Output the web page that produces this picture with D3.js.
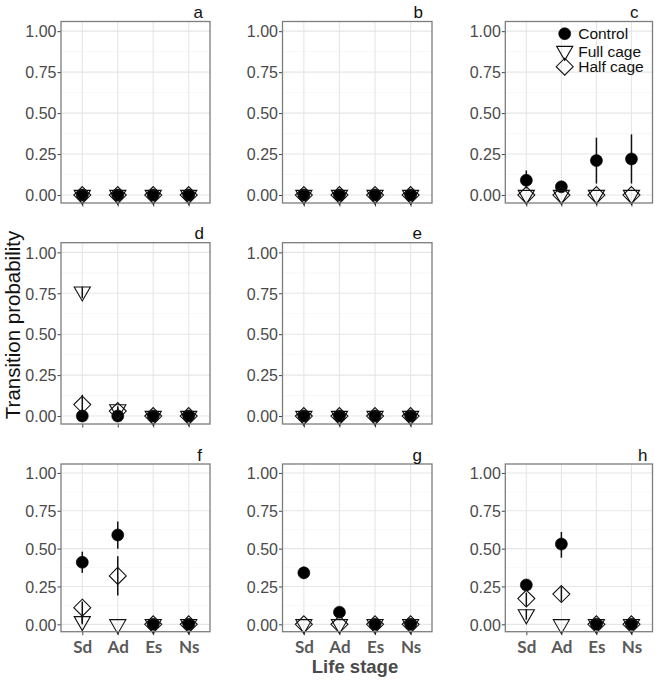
<!DOCTYPE html>
<html>
<head>
<meta charset="utf-8">
<script src="https://cdn.jsdelivr.net/npm/d3@7"></script>
<style>
  html, body { margin: 0; padding: 0; background: #fff; }
  svg { display: block; }
</style>
</head>
<body>
<div id="chart"></div>
<script>
// ---------------- DATA ----------------
const stages = ["Sd", "Ad", "Es", "Ns"];
const panelLabels = ["a", "b", "c", "d", "e", "f", "g", "h"];
const treatments = ["Control", "Full cage", "Half cage"];
const yTicks = [0, 0.25, 0.5, 0.75, 1];
const yTickLabels = ["0.00", "0.25", "0.50", "0.75", "1.00"];
const yMinorTicks = [0.125, 0.375, 0.625, 0.875];

// one row per panel (a..h), one value per life stage (Sd, Ad, Es, Ns)
const controlMean = [
  [0, 0, 0, 0], [0, 0, 0, 0], [0.09, 0.05, 0.21, 0.22], [0, 0, 0, 0],
  [0, 0, 0, 0], [0.41, 0.59, 0, 0], [0.34, 0.08, 0, 0], [0.26, 0.53, 0, 0]
];
const controlLow = [
  [0, 0, 0, 0], [0, 0, 0, 0], [0.04, 0.02, 0.07, 0.07], [0, 0, 0, 0],
  [0, 0, 0, 0], [0.34, 0.50, 0, 0], [0.30, 0.06, 0, 0], [0.23, 0.44, 0, 0]
];
const controlHigh = [
  [0, 0, 0, 0], [0, 0, 0, 0], [0.15, 0.08, 0.35, 0.37], [0, 0, 0, 0],
  [0, 0, 0, 0], [0.48, 0.68, 0, 0], [0.38, 0.10, 0, 0], [0.28, 0.61, 0, 0]
];
const fullMean = [
  [0, 0, 0, 0], [0, 0, 0, 0], [0, 0, 0, 0], [0.76, 0.04, 0, 0],
  [0, 0, 0, 0], [0.02, 0, 0, 0], [0, 0, 0, 0], [0.065, 0, 0, 0]
];
const fullLow = [
  [0, 0, 0, 0], [0, 0, 0, 0], [0, 0, 0, 0], [0.72, 0.02, 0, 0],
  [0, 0, 0, 0], [0, 0, 0, 0], [0, 0, 0, 0], [0.03, 0, 0, 0]
];
const fullHigh = [
  [0, 0, 0, 0], [0, 0, 0, 0], [0, 0, 0, 0], [0.79, 0.06, 0, 0],
  [0, 0, 0, 0], [0.06, 0, 0, 0], [0, 0, 0, 0], [0.10, 0, 0, 0]
];
const halfMean = [
  [0, 0, 0, 0], [0, 0, 0, 0], [0, 0, 0, 0], [0.07, 0.03, 0, 0],
  [0, 0, 0, 0], [0.11, 0.32, 0, 0], [0, 0, 0, 0], [0.17, 0.20, 0, 0]
];
const halfLow = [
  [0, 0, 0, 0], [0, 0, 0, 0], [0, 0, 0, 0], [0, 0.01, 0, 0],
  [0, 0, 0, 0], [0.01, 0.19, 0, 0], [0, 0, 0, 0], [0.12, 0.15, 0, 0]
];
const halfHigh = [
  [0, 0, 0, 0], [0, 0, 0, 0], [0, 0, 0, 0], [0.13, 0.05, 0, 0],
  [0, 0, 0, 0], [0.15, 0.45, 0, 0], [0, 0, 0, 0], [0.21, 0.25, 0, 0]
];

// ---------------- LAYOUT ----------------
const W = 660, H = 690;
const colX = [[61, 210], [282.5, 432], [505.3, 652.5]];
const rowY = [[21.5, 203], [242.7, 424], [464, 631.7]];
const panelGrid = [[0, 0], [0, 1], [0, 2], [1, 0], [1, 1], [2, 0], [2, 1], [2, 2]];
const letterInset = [7, 9, 14, 6, 10, 8, 10, 5];
const yDomain = [-0.0487, 1.059];
const R0 = 6;

const svg = d3.select("#chart").append("svg")
  .attr("width", W).attr("height", H)
  .style("font-family", "'Liberation Sans', Arial, sans-serif");
svg.append("rect").attr("width", W).attr("height", H).attr("fill", "#fff");

const series = [
  { name: treatments[0], mean: controlMean, low: controlLow, high: controlHigh, shape: "circle" },
  { name: treatments[1], mean: fullMean, low: fullLow, high: fullHigh, shape: "tri" },
  { name: treatments[2], mean: halfMean, low: halfLow, high: halfHigh, shape: "diamond" }
];

function shapePath(shape, r) {
  if (shape === "tri") {
    const top = -0.7776 * r, bot = 1.5551 * r, hw = 1.3468 * r;
    return `M${-hw},${top}L${hw},${top}L0,${bot}Z`;
  }
  if (shape === "diamond") {
    const d = Math.SQRT2 * r;
    return `M0,${-d}L${d},0L0,${d}L${-d},0Z`;
  }
  return d3.symbol(d3.symbolCircle, Math.PI * r * r)();
}

function drawMarker(g, shape, x, y) {
  const p = g.append("path").attr("d", shapePath(shape, R0))
    .attr("transform", `translate(${x},${y})`);
  if (shape === "circle") p.attr("fill", "#000").attr("stroke", "#000").attr("stroke-width", 0.6);
  else p.attr("fill", "none").attr("stroke", "#111").attr("stroke-width", 1.1);
  return p;
}

panelLabels.forEach((lab, pi) => {
  const [ri, ci] = panelGrid[pi];
  const [x0, x1] = colX[ci];
  const [y0, y1] = rowY[ri];
  const x = d3.scalePoint().domain(stages).range([x0, x1]).padding(0.6);
  const y = d3.scaleLinear().domain(yDomain).range([y1, y0]);
  const g = svg.append("g");

  g.append("rect").attr("x", x0).attr("y", y0).attr("width", x1 - x0).attr("height", y1 - y0)
    .attr("fill", "#fff");
  g.selectAll(".minor").data(yMinorTicks).join("line")
    .attr("x1", x0).attr("x2", x1).attr("y1", d => y(d)).attr("y2", d => y(d))
    .attr("stroke", "#f3f3f3").attr("stroke-width", 0.6);
  g.selectAll(".hmaj").data(yTicks).join("line")
    .attr("x1", x0).attr("x2", x1).attr("y1", d => y(d)).attr("y2", d => y(d))
    .attr("stroke", "#e6e6e6").attr("stroke-width", 1.1);
  g.selectAll(".vmaj").data(stages).join("line")
    .attr("x1", d => x(d)).attr("x2", d => x(d)).attr("y1", y0).attr("y2", y1)
    .attr("stroke", "#e6e6e6").attr("stroke-width", 1.1);

  const yAxis = d3.axisLeft(y).tickValues(yTicks)
    .tickFormat((d, i) => yTickLabels[i]).tickSize(3.5).tickPadding(1);
  const ya = g.append("g").attr("transform", `translate(${x0},0)`).call(yAxis);
  ya.select(".domain").remove();
  ya.selectAll("line").attr("stroke", "#444").attr("stroke-width", 1);
  ya.selectAll("text").attr("fill", "#4a4a4a").attr("font-size", 16)
    .attr("font-family", "'Liberation Sans', Arial, sans-serif")
    .attr("dy", "0.36em");

  const xAxis = d3.axisBottom(x).tickSize(3.5).tickPadding(4.5);
  const xa = g.append("g").attr("transform", `translate(0,${y1})`).call(xAxis);
  xa.select(".domain").remove();
  xa.selectAll("line").attr("stroke", "#444").attr("stroke-width", 1);
  if (ri === 2) {
    xa.selectAll("text").attr("fill", "#5a5a5a").attr("font-size", 17)
      .attr("font-weight", 700)
      .attr("font-family", "Lato, 'Open Sans', sans-serif")
      .attr("dy", "0.78em");
  } else {
    xa.selectAll("text").remove();
  }

  series.forEach(s => {
    stages.forEach((st, si) => {
      const lo = s.low[pi][si], hi = s.high[pi][si];
      if (hi > lo) {
        g.append("line").attr("x1", x(st)).attr("x2", x(st))
          .attr("y1", y(lo)).attr("y2", y(hi))
          .attr("stroke", "#111").attr("stroke-width", 1.5);
      }
    });
  });
  series.forEach(s => {
    stages.forEach((st, si) => {
      drawMarker(g, s.shape, x(st), y(s.mean[pi][si]));
    });
  });

  g.append("rect").attr("x", x0).attr("y", y0).attr("width", x1 - x0).attr("height", y1 - y0)
    .attr("fill", "none").attr("stroke", "#7d7d7d").attr("stroke-width", 1.3);

  g.append("text").attr("x", x1 - letterInset[pi]).attr("y", y0 - 3.5)
    .attr("text-anchor", "end").attr("font-size", 17).attr("fill", "#111")
    .text(lab);

  if (lab === "c") {
    const lx = 564.7, ly = [33.7, 51, 66.7];
    series.forEach((s, i) => {
      drawMarker(g, s.shape, lx, ly[i]);
      g.append("text").attr("x", lx + 13.5).attr("y", ly[i]).attr("dy", "0.36em")
        .attr("font-size", 15.5).attr("fill", "#111").text(s.name);
    });
  }
});

svg.append("text")
  .attr("transform", `translate(20,325) rotate(-90)`)
  .attr("text-anchor", "middle").attr("font-size", 20.5).attr("fill", "#111")
  .text("Transition probability");
svg.append("text")
  .attr("x", 355).attr("y", 673)
  .attr("text-anchor", "middle").attr("font-size", 18.5).attr("font-weight", 700)
  .attr("fill", "#4a4a4a")
  .text("Life stage");
</script>
</body>
</html>
